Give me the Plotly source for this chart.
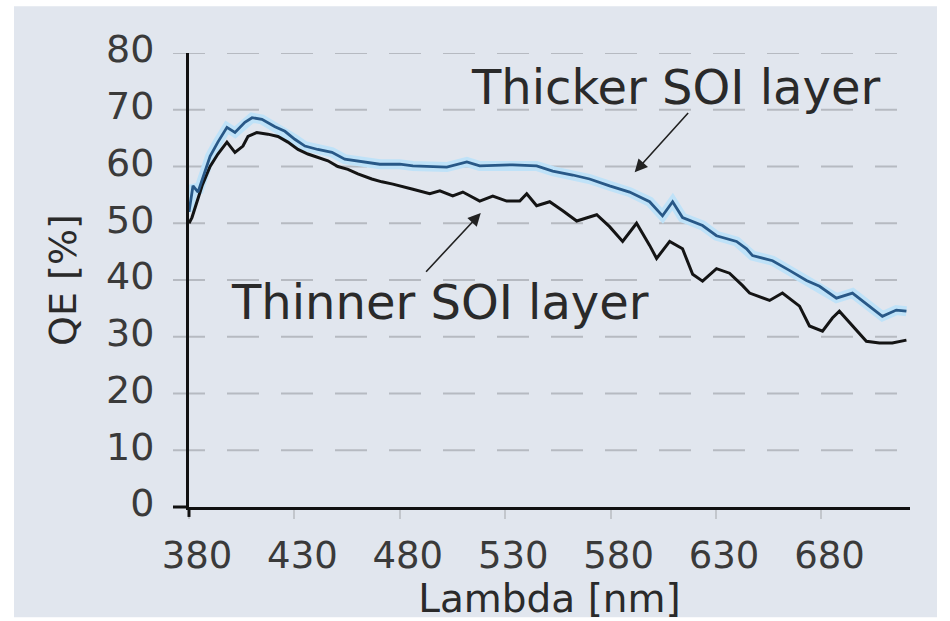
import plotly.graph_objects as go

# Quantum efficiency spectra for two SOI layer thicknesses
lambda_thick = [380.0, 381.9, 384.3, 390.0, 393.7, 398.0, 401.8, 406.5, 409.9, 414.6,
                420.8, 425.5, 430.2, 435.0, 441.1, 447.8, 453.9, 462.0, 470.5, 480.0,
                486.2, 502.3, 511.8, 517.9, 533.6, 544.9, 552.5, 562.0, 570.0, 579.5,
                589.0, 598.5, 604.6, 609.4, 614.1, 623.6, 630.2, 639.7, 644.5, 647.3,
                656.8, 664.8, 672.9, 679.1, 687.1, 694.7, 704.2, 708.9, 715.5, 720.3]
qe_thick = [52.0, 56.6, 55.5, 61.8, 64.3, 66.9, 66.0, 67.8, 68.6, 68.3,
            67.0, 66.2, 64.8, 63.6, 63.0, 62.5, 61.3, 60.8, 60.4, 60.4,
            60.1, 59.9, 60.8, 60.1, 60.3, 60.1, 59.2, 58.5, 57.8, 56.6,
            55.5, 53.8, 51.3, 53.8, 51.0, 49.6, 47.8, 46.8, 45.5, 44.3,
            43.4, 41.7, 39.9, 38.9, 36.8, 37.7, 35.0, 33.6, 34.7, 34.5]

lambda_thin = [380.0, 381.4, 386.2, 390.0, 393.7, 398.0, 401.8, 405.6, 408.0, 412.2,
               417.4, 422.2, 426.9, 431.7, 436.4, 441.1, 445.9, 450.6, 455.4, 460.1,
               466.7, 471.5, 476.7, 486.2, 494.2, 499.0, 505.1, 509.9, 517.9, 524.1,
               530.7, 536.9, 540.2, 544.9, 551.1, 557.3, 563.9, 573.4, 579.5, 585.7,
               592.3, 598.5, 601.8, 608.0, 614.1, 618.9, 623.6, 630.2, 636.4, 642.6,
               645.9, 655.4, 661.5, 669.6, 674.3, 680.5, 685.2, 688.5, 694.7, 701.3,
               707.5, 713.6, 720.3]
qe_thin = [50.0, 51.0, 56.6, 60.0, 62.2, 64.3, 62.5, 63.6, 65.3, 66.0,
           65.7, 65.3, 64.3, 63.0, 62.2, 61.6, 61.0, 60.0, 59.5, 58.7,
           57.8, 57.3, 56.9, 56.0, 55.2, 55.7, 54.8, 55.5, 53.9, 54.8,
           53.9, 53.9, 55.2, 53.1, 53.8, 52.2, 50.4, 51.5, 49.4, 46.8,
           50.0, 46.1, 43.8, 46.8, 45.5, 41.0, 39.8, 42.0, 41.2, 39.0,
           37.7, 36.4, 37.7, 35.4, 31.9, 31.0, 33.3, 34.5, 32.0, 29.2,
           28.9, 28.9, 29.4]

x_ticks = [380, 430, 480, 530, 580, 630, 680]
y_ticks = [0, 10, 20, 30, 40, 50, 60, 70, 80]

FONT = "DejaVu Sans"
BG = "#e1e6ee"

fig = go.Figure()

# light halo under the thicker-layer curve
fig.add_trace(go.Scatter(x=lambda_thick, y=qe_thick, mode="lines",
                         line=dict(color="#bfe2f8", width=10), hoverinfo="skip",
                         showlegend=False))
fig.add_trace(go.Scatter(x=lambda_thin, y=qe_thin, mode="lines",
                         line=dict(color="#141414", width=3),
                         name="Thinner SOI layer", showlegend=False))
fig.add_trace(go.Scatter(x=lambda_thick, y=qe_thick, mode="lines",
                         line=dict(color="#285887", width=2.8),
                         name="Thicker SOI layer", showlegend=False))

plot_w = 950 - 189 - 40
plot_h = 621 - 53 - 111

shapes = [
    # panel background
    dict(type="rect", xref="paper", yref="paper",
         x0=(14 - 189) / plot_w, x1=(937 - 189) / plot_w,
         y0=-(621 - 510) / plot_h, y1=(510 - 6) / plot_h,
         fillcolor=BG, line=dict(width=0), layer="below"),
]
# dashed horizontal gridlines
for v in y_ticks[1:]:
    shapes.append(dict(type="line", xref="paper", yref="y",
                       x0=-16 / plot_w, x1=(897 - 189) / plot_w, y0=v, y1=v,
                       line=dict(color="#b6bac1", width=2, dash="32px,22px"),
                       layer="below"))
# short axis overhangs at the origin
shapes.append(dict(type="line", xref="paper", yref="paper",
                   x0=-16 / plot_w, x1=0, y0=0, y1=0,
                   line=dict(color="#111111", width=3)))
shapes.append(dict(type="line", xref="paper", yref="paper",
                   x0=0, x1=0, y0=-10 / plot_h, y1=0,
                   line=dict(color="#111111", width=3)))

annotations = [
    dict(x=610.6, y=74.0, xref="x", yref="y", text="Thicker SOI layer",
         showarrow=False, font=dict(family=FONT, size=48, color="#2a2a2a"),
         xanchor="center", yanchor="middle"),
    dict(x=499.0, y=36.2, xref="x", yref="y", text="Thinner SOI layer",
         showarrow=False, font=dict(family=FONT, size=48, color="#2a2a2a"),
         xanchor="center", yanchor="middle"),
    dict(x=591.4, y=59.0, ax=617.4, ay=69.7, xref="x", yref="y",
         axref="x", ayref="y", text="", showarrow=True, arrowhead=2,
         arrowsize=1.6, arrowwidth=1.6, arrowcolor="#222222"),
    dict(x=518.4, y=51.8, ax=491.8, ay=41.2, xref="x", yref="y",
         axref="x", ayref="y", text="", showarrow=True, arrowhead=2,
         arrowsize=1.6, arrowwidth=1.6, arrowcolor="#222222"),
]

fig.update_layout(
    width=950, height=621,
    margin=dict(l=189, r=40, t=53, b=111),
    paper_bgcolor="white",
    plot_bgcolor="rgba(0,0,0,0)",
    shapes=shapes,
    annotations=annotations,
    showlegend=False,
    xaxis=dict(
        range=[380, 722], tickvals=x_ticks, ticktext=[str(t) for t in x_ticks],
        showgrid=False, zeroline=False,
        showline=True, linecolor="#111111", linewidth=3,
        ticks="outside", ticklen=9, tickwidth=2, tickcolor="#c2c6cc",
        ticklabelshift=8, ticklabelstandoff=5,
        tickfont=dict(family=FONT, size=37, color="#3a3a3a"),
        title=dict(text="Lambda [nm]", standoff=4,
                   font=dict(family=FONT, size=39, color="#2a2a2a")),
    ),
    yaxis=dict(
        range=[0, 80], tickvals=y_ticks, ticktext=[str(t) for t in y_ticks],
        showgrid=False, zeroline=False,
        showline=True, linecolor="#111111", linewidth=3,
        ticks="", ticklabelstandoff=24, ticklabelshift=-4,
        tickfont=dict(family=FONT, size=38, color="#3a3a3a"),
        title=dict(text="QE [%]", standoff=18,
                   font=dict(family=FONT, size=38, color="#2a2a2a")),
    ),
)

fig.write_html("out.html")
